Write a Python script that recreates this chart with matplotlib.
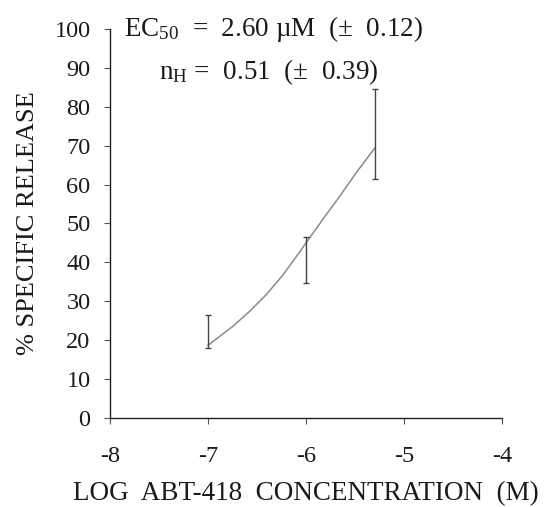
import numpy as np
from matplotlib import pyplot as plt

# error bar data (mean +/- sem)
log_conc = [-7.0, -6.0, -5.3]
release_mean = [22.3, 40.7, 73.0]
release_sem = [4.2, 5.9, 11.6]

# fitted curve, points
fit_x = [-7.0, -6.75, -6.58, -6.41, -6.24, -6.07, -6.0, -5.83, -5.65, -5.48, -5.3]
fit_y = [18.7, 23.5, 27.3, 31.6, 36.6, 42.5, 45.0, 51.0, 57.2, 63.3, 69.3]

x_ticks = [-8, -7, -6, -5, -4]
y_ticks = list(range(0, 101, 10))

plt.rcParams['font.family'] = ['Liberation Serif', 'DejaVu Serif']
plt.rcParams['mathtext.fontset'] = 'custom'
plt.rcParams['mathtext.rm'] = 'Liberation Serif'
plt.rcParams['mathtext.it'] = 'Liberation Serif'


def main():
    fig = plt.figure(figsize=(5.49, 5.07), dpi=100)
    ax = fig.add_axes([0.2004, 0.1755, 0.714, 0.7675])

    ax.plot(fit_x, fit_y, color='#8a8a8a', linewidth=1.1)
    ax.errorbar(log_conc, release_mean, yerr=release_sem, fmt='none',
                ecolor='#444444', elinewidth=1.0, capsize=2, capthick=1.0)

    ax.set_xlim(-8, -4)
    ax.set_ylim(0, 100)
    ax.set_xticks(x_ticks)
    ax.set_xticklabels([str(t) for t in x_ticks])
    ax.set_yticks(y_ticks)

    for side in ['top', 'right']:
        ax.spines[side].set_visible(False)
    for side in ['left', 'bottom']:
        ax.spines[side].set_linewidth(1.0)
        ax.spines[side].set_color('#222222')

    ax.tick_params(axis='both', direction='out', length=4, width=0.8,
                   color='#555555', labelsize=17.5, labelcolor='#1a1a1a')
    ax.tick_params(axis='y', pad=10)
    ax.tick_params(axis='x', pad=16)

    ax.set_xlabel('LOG  ABT-418  CONCENTRATION  (M)', fontsize=19.5,
                  color='#1a1a1a', labelpad=10)
    ax.set_ylabel('% SPECIFIC RELEASE', fontsize=19, color='#1a1a1a',
                  labelpad=11)

    ax.text(-7.86, 100, r'EC$_{50}$  =  2.60 µM  (±  0.12)', fontsize=19.5,
            color='#1a1a1a', va='center', ha='left')
    ax.text(-7.5, 89, r'n$_{\mathrm{H}}$ =  0.51  (±  0.39)', fontsize=19.5,
            color='#1a1a1a', va='center', ha='left')

    fig.savefig('out.png', dpi=100, facecolor='white')


if __name__ == '__main__':
    main()
